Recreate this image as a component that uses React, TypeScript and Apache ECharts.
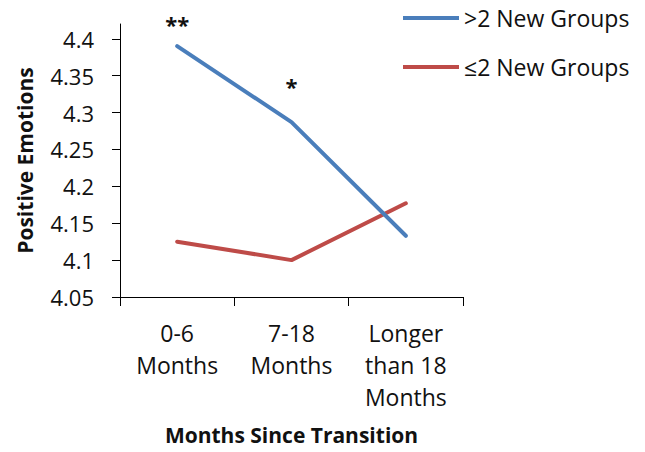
import React, { useEffect, useRef } from "react";
import * as echarts from "echarts";

// Time since the transition, one category per stage
const categories = ["0-6\nMonths", "7-18\nMonths", "Longer\nthan 18\nMonths"];

// Mean positive emotions per group
const moreThanTwoGroups = [4.39, 4.287, 4.133];
const twoOrFewerGroups = [4.125, 4.1, 4.177];

// Significance markers shown above the ">2 New Groups" line
const significance = ["**", "*", ""];

// Value axis ticks
const yTicks = [4.05, 4.1, 4.15, 4.2, 4.25, 4.3, 4.35, 4.4];

const seriesNames = [">2 New Groups", "\u22642 New Groups"];

const FONT = "'Open Sans', 'Noto Sans', sans-serif";
const TEXT = "#111";

export default function App() {
  const ref = useRef<HTMLDivElement>(null);

  useEffect(() => {
    if (!ref.current) return;
    const chart = echarts.init(ref.current, null, { renderer: "svg" });

    const labelDistances = [11, 25, 0];

    chart.setOption({
      animation: false,
      backgroundColor: "#fff",
      textStyle: { fontFamily: FONT, color: TEXT },
      grid: { left: 120, right: 182, top: 24, bottom: 155, containLabel: false },
      legend: {
        orient: "vertical",
        left: 403,
        top: 5,
        padding: 0,
        itemWidth: 56,
        itemHeight: 4,
        itemGap: 23,
        icon: "rect",
        textStyle: { fontFamily: FONT, fontSize: 23, color: TEXT, lineHeight: 26 },
        data: seriesNames,
      },
      xAxis: {
        type: "category",
        data: categories,
        boundaryGap: true,
        name: "Months Since Transition",
        nameLocation: "middle",
        nameGap: 127,
        nameTextStyle: { fontFamily: FONT, fontSize: 21, fontWeight: "bold", color: TEXT },
        axisLine: { lineStyle: { color: "#000", width: 1 } },
        axisTick: { show: true, alignWithLabel: false, length: 9, lineStyle: { color: "#000" } },
        axisLabel: {
          fontFamily: FONT,
          fontSize: 23,
          lineHeight: 32,
          color: TEXT,
          margin: 20,
          interval: 0,
        },
        splitLine: { show: false },
      },
      yAxis: {
        type: "value",
        min: 4.05,
        max: 4.42,
        interval: 0.05,
        name: "Positive Emotions",
        nameLocation: "middle",
        nameGap: 85,
        nameTextStyle: { fontFamily: FONT, fontSize: 21, fontWeight: "bold", color: TEXT },
        axisLine: { show: true, lineStyle: { color: "#000", width: 1 } },
        axisTick: {
          show: true,
          length: 8,
          customValues: yTicks,
          lineStyle: { color: "#000" },
        },
        axisLabel: {
          fontFamily: FONT,
          fontSize: 22,
          color: TEXT,
          margin: 26,
          customValues: yTicks,
          formatter: (v: number) => String(Number(v.toFixed(2))),
        },
        splitLine: { show: false },
      },
      series: [
        {
          name: seriesNames[0],
          type: "line",
          symbol: "circle",
          symbolSize: 1,
          itemStyle: { color: "#4A7EBB" },
          lineStyle: { color: "#4A7EBB", width: 4, cap: "round", join: "round" },
          data: moreThanTwoGroups.map((v, i) => ({
            value: v,
            label: {
              show: significance[i] !== "",
              formatter: significance[i],
              position: "top",
              distance: labelDistances[i],
              fontFamily: FONT,
              fontSize: 22,
              fontWeight: "bold",
              color: TEXT,
            },
          })),
          emphasis: { disabled: true },
          z: 3,
        },
        {
          name: seriesNames[1],
          type: "line",
          symbol: "none",
          itemStyle: { color: "#BE4B48" },
          lineStyle: { color: "#BE4B48", width: 4, cap: "round", join: "round" },
          data: twoOrFewerGroups,
          emphasis: { disabled: true },
          z: 2,
        },
      ],
    });

    return () => chart.dispose();
  }, []);

  return <div ref={ref} style={{ width: 645, height: 452, position: "absolute", left: 0, top: 0 }} />;
}
